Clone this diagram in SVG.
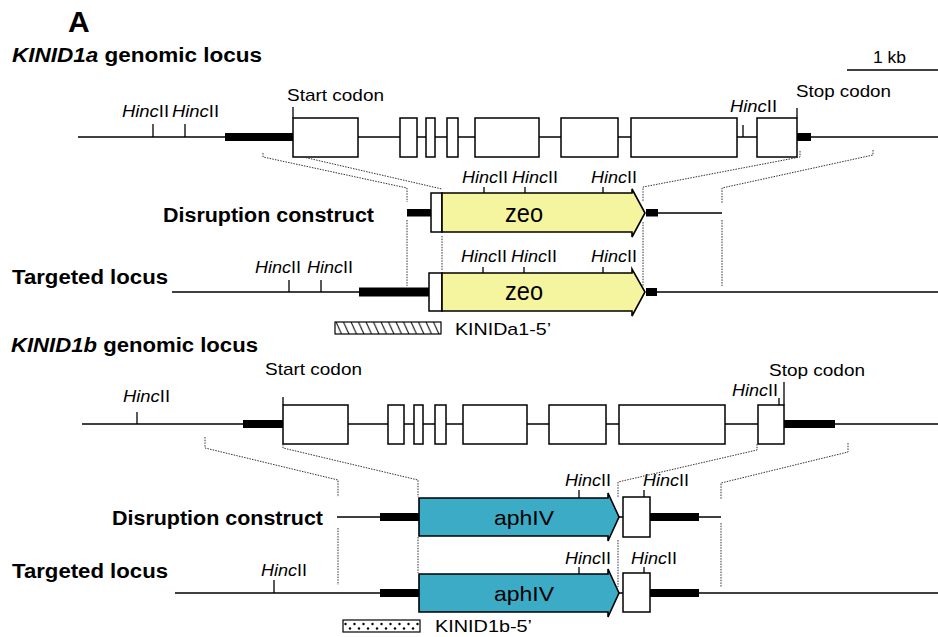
<svg xmlns="http://www.w3.org/2000/svg" width="938" height="637" viewBox="0 0 938 637">
<style>
text{font-family:"Liberation Sans",Arial,sans-serif;fill:#000}
.t{font-size:20px;font-weight:bold}
.h{font-size:16px}
.i{font-style:italic}
.s{font-size:17px}
.ln{stroke:#000;stroke-width:1.5;fill:none}
.tk{stroke:#000;stroke-width:1.3;fill:none}
.bar{fill:#000}
.ex{fill:#fff;stroke:#000;stroke-width:1.5}
.dt{stroke:#333;stroke-width:1;stroke-dasharray:1.5 1.2;fill:none}
.zeo{fill:#f5f59f;stroke:#000;stroke-width:1.6}
.aph{fill:#3cabc6;stroke:#000;stroke-width:1.6}
</style>
<defs>
<pattern id="hatch" patternUnits="userSpaceOnUse" x="335" y="322" width="7.5" height="12"><path d="M1,0 L6.5,12" stroke="#000" stroke-width="1"/></pattern>
<pattern id="dots" patternUnits="userSpaceOnUse" x="343" y="620" width="9" height="12"><circle cx="2.5" cy="4" r="1.2" fill="#000"/><circle cx="7" cy="8.5" r="1.2" fill="#000"/></pattern>
</defs>
<rect width="938" height="637" fill="#fff"/>

<text x="68" y="32" style="font-size:30px;font-weight:bold">A</text>

<g id="scale">
<text x="873" y="63" textLength="33" lengthAdjust="spacingAndGlyphs" style="font-size:16px">1 kb</text>
<line class="ln" x1="847" y1="70" x2="938" y2="70"/>
</g>

<!-- KINID1a genomic -->
<g id="kinid1a-genomic">
<text class="t" x="12" y="62" textLength="250" lengthAdjust="spacingAndGlyphs" style="font-size:19.5px"><tspan class="i">KINID1a</tspan> genomic locus</text>
<line class="ln" x1="78" y1="137" x2="938" y2="137"/>
<rect class="bar" x="225" y="133" width="68" height="8"/>
<rect class="bar" x="797" y="133" width="14" height="8"/>
<rect class="ex" x="293" y="118" width="65" height="39"/>
<rect class="ex" x="400" y="118" width="17" height="39"/>
<rect class="ex" x="426" y="118" width="9" height="39"/>
<rect class="ex" x="447" y="118" width="11" height="39"/>
<rect class="ex" x="475" y="118" width="64" height="39"/>
<rect class="ex" x="561" y="118" width="57" height="39"/>
<rect class="ex" x="631" y="118" width="106" height="39"/>
<rect class="ex" x="757" y="118" width="40" height="39"/>
<line class="tk" x1="293" y1="107" x2="293" y2="118"/>
<line class="tk" x1="797" y1="108" x2="797" y2="118"/>
<line class="tk" x1="153" y1="124" x2="153" y2="137"/>
<line class="tk" x1="185" y1="124" x2="185" y2="137"/>
<line class="tk" x1="743" y1="125" x2="743" y2="137"/>
<text class="s" x="287" y="101" textLength="97" lengthAdjust="spacingAndGlyphs">Start codon</text>
<text class="s" x="796" y="97" textLength="95" lengthAdjust="spacingAndGlyphs">Stop codon</text>
<text class="h" x="122" y="117" textLength="47" lengthAdjust="spacingAndGlyphs"><tspan class="i">Hinc</tspan>II</text>
<text class="h" x="172" y="117" textLength="47" lengthAdjust="spacingAndGlyphs"><tspan class="i">Hinc</tspan>II</text>
<text class="h" x="730" y="112" textLength="47" lengthAdjust="spacingAndGlyphs"><tspan class="i">Hinc</tspan>II</text>
</g>

<!-- KINID1a disruption construct -->
<g id="kinid1a-construct">
<text class="t" x="163" y="222" textLength="211" lengthAdjust="spacingAndGlyphs">Disruption construct</text>
<rect class="bar" x="407" y="209" width="24" height="7.5"/>
<rect class="ex" x="431" y="193" width="11" height="39"/>
<polygon class="zeo" points="442,193 632,193 632,189 645,213 632,237 632,232 442,232"/>
<text x="524" y="222" text-anchor="middle" textLength="38" lengthAdjust="spacingAndGlyphs" style="font-size:25px">zeo</text>
<rect class="bar" x="646" y="209" width="12" height="7.5"/>
<line class="ln" x1="658" y1="213" x2="722" y2="213"/>
<line class="tk" x1="484" y1="187" x2="484" y2="193"/>
<line class="tk" x1="525" y1="187" x2="525" y2="193"/>
<line class="tk" x1="603" y1="187" x2="603" y2="193"/>
<text class="h" x="462" y="183" textLength="46" lengthAdjust="spacingAndGlyphs"><tspan class="i">Hinc</tspan>II</text>
<text class="h" x="512" y="183" textLength="46" lengthAdjust="spacingAndGlyphs"><tspan class="i">Hinc</tspan>II</text>
<text class="h" x="591" y="183" textLength="46" lengthAdjust="spacingAndGlyphs"><tspan class="i">Hinc</tspan>II</text>
</g>

<!-- KINID1a targeted locus -->
<g id="kinid1a-targeted">
<text class="t" x="12" y="284" textLength="156" lengthAdjust="spacingAndGlyphs">Targeted locus</text>
<line class="ln" x1="172" y1="292" x2="359" y2="292"/>
<line class="ln" x1="657" y1="292" x2="938" y2="292"/>
<rect class="bar" x="359" y="287.5" width="71" height="9"/>
<rect class="ex" x="429" y="273" width="13" height="38"/>
<polygon class="zeo" points="442,273 632,273 632,269 645,292 632,316 632,311 442,311"/>
<text x="524" y="300" text-anchor="middle" textLength="38" lengthAdjust="spacingAndGlyphs" style="font-size:25px">zeo</text>
<rect class="bar" x="646" y="288" width="11" height="8"/>
<line class="tk" x1="289" y1="280" x2="289" y2="292"/>
<line class="tk" x1="321" y1="280" x2="321" y2="292"/>
<line class="tk" x1="483" y1="267" x2="483" y2="273"/>
<line class="tk" x1="524" y1="267" x2="524" y2="273"/>
<line class="tk" x1="603" y1="267" x2="603" y2="273"/>
<text class="h" x="255" y="273" textLength="46" lengthAdjust="spacingAndGlyphs"><tspan class="i">Hinc</tspan>II</text>
<text class="h" x="307" y="273" textLength="46" lengthAdjust="spacingAndGlyphs"><tspan class="i">Hinc</tspan>II</text>
<text class="h" x="461" y="262" textLength="46" lengthAdjust="spacingAndGlyphs"><tspan class="i">Hinc</tspan>II</text>
<text class="h" x="511" y="262" textLength="46" lengthAdjust="spacingAndGlyphs"><tspan class="i">Hinc</tspan>II</text>
<text class="h" x="591" y="262" textLength="46" lengthAdjust="spacingAndGlyphs"><tspan class="i">Hinc</tspan>II</text>
</g>

<g id="probe-a">
<rect x="335" y="322" width="106" height="12" fill="url(#hatch)" stroke="#000" stroke-width="1.2"/>
<text class="s" x="455" y="335" textLength="96" lengthAdjust="spacingAndGlyphs">KINIDa1-5’</text>
</g>

<!-- KINID1b genomic -->
<g id="kinid1b-genomic">
<text class="t" x="11" y="352" textLength="247" lengthAdjust="spacingAndGlyphs" style="font-size:19.5px"><tspan class="i">KINID1b</tspan> genomic locus</text>
<line class="ln" x1="82" y1="424" x2="938" y2="424"/>
<rect class="bar" x="243" y="420" width="40" height="8"/>
<rect class="bar" x="784" y="420" width="51" height="8"/>
<rect class="ex" x="283" y="405" width="65" height="39"/>
<rect class="ex" x="388" y="405" width="16" height="39"/>
<rect class="ex" x="414" y="405" width="9" height="39"/>
<rect class="ex" x="435" y="405" width="11" height="39"/>
<rect class="ex" x="463" y="405" width="64" height="39"/>
<rect class="ex" x="549" y="405" width="57" height="39"/>
<rect class="ex" x="619" y="405" width="106" height="39"/>
<rect class="ex" x="758" y="405" width="26" height="39"/>
<line class="tk" x1="283" y1="397" x2="283" y2="405"/>
<line class="tk" x1="784" y1="382" x2="784" y2="405"/>
<line class="tk" x1="779" y1="398" x2="779" y2="405"/>
<line class="tk" x1="137" y1="412" x2="137" y2="424"/>
<text class="s" x="265" y="375" textLength="97" lengthAdjust="spacingAndGlyphs">Start codon</text>
<text class="s" x="769" y="376" textLength="96" lengthAdjust="spacingAndGlyphs">Stop codon</text>
<text class="h" x="123" y="402" textLength="47" lengthAdjust="spacingAndGlyphs"><tspan class="i">Hinc</tspan>II</text>
<text class="h" x="732" y="396" textLength="46" lengthAdjust="spacingAndGlyphs"><tspan class="i">Hinc</tspan>II</text>
</g>

<!-- KINID1b disruption construct -->
<g id="kinid1b-construct">
<text class="t" x="112" y="525" textLength="211" lengthAdjust="spacingAndGlyphs">Disruption construct</text>
<line class="ln" x1="337" y1="517" x2="380" y2="517"/>
<rect class="bar" x="380" y="513" width="39" height="8"/>
<polygon class="aph" points="419,498 608,498 608,493 619,517 608,541 608,536 419,536"/>
<text x="524" y="525" text-anchor="middle" textLength="60" lengthAdjust="spacingAndGlyphs" style="font-size:21px">aphIV</text>
<line class="ln" x1="619" y1="517" x2="623" y2="517"/>
<rect class="ex" x="623" y="497" width="27" height="40"/>
<rect class="bar" x="650" y="513" width="49" height="8"/>
<line class="ln" x1="699" y1="517" x2="721" y2="517"/>
<line class="tk" x1="579" y1="490" x2="579" y2="498"/>
<line class="tk" x1="644" y1="490" x2="644" y2="497"/>
<text class="h" x="565" y="486" textLength="46" lengthAdjust="spacingAndGlyphs"><tspan class="i">Hinc</tspan>II</text>
<text class="h" x="643" y="486" textLength="46" lengthAdjust="spacingAndGlyphs"><tspan class="i">Hinc</tspan>II</text>
</g>

<!-- KINID1b targeted locus -->
<g id="kinid1b-targeted">
<text class="t" x="12" y="578" textLength="156" lengthAdjust="spacingAndGlyphs">Targeted locus</text>
<line class="ln" x1="175" y1="593" x2="380" y2="593"/>
<line class="ln" x1="699" y1="593" x2="938" y2="593"/>
<line class="ln" x1="619" y1="593" x2="623" y2="593"/>
<rect class="bar" x="380" y="589" width="39" height="8"/>
<polygon class="aph" points="419,574 608,574 608,569 619,593 608,617 608,612 419,612"/>
<text x="524" y="601" text-anchor="middle" textLength="60" lengthAdjust="spacingAndGlyphs" style="font-size:21px">aphIV</text>
<rect class="ex" x="623" y="573" width="27" height="39"/>
<rect class="bar" x="650" y="589" width="49" height="8"/>
<line class="tk" x1="274" y1="580" x2="274" y2="593"/>
<line class="tk" x1="579" y1="567" x2="579" y2="574"/>
<line class="tk" x1="644" y1="567" x2="644" y2="573"/>
<text class="h" x="261" y="576" textLength="46" lengthAdjust="spacingAndGlyphs"><tspan class="i">Hinc</tspan>II</text>
<text class="h" x="565" y="564" textLength="46" lengthAdjust="spacingAndGlyphs"><tspan class="i">Hinc</tspan>II</text>
<text class="h" x="631" y="564" textLength="46" lengthAdjust="spacingAndGlyphs"><tspan class="i">Hinc</tspan>II</text>
</g>

<g id="probe-b">
<rect x="343" y="620" width="77" height="12" fill="url(#dots)" stroke="#000" stroke-width="1.2"/>
<text class="s" x="435" y="632" textLength="97" lengthAdjust="spacingAndGlyphs">KINID1b-5’</text>
</g>

<g id="connectors">
<path class="dt" d="M263,153 V157 L407,188 V202 M407,220 V286"/>
<path class="dt" d="M303,157 L442,189 M442,236 V270"/>
<path class="dt" d="M800,151 V157 L643,187 V201 M643,222 V287"/>
<path class="dt" d="M873,150 V155 L722,188 V203 M722,220 V286"/>
<path class="dt" d="M205,437 V448 L338,480 V497 M338,528 V585"/>
<path class="dt" d="M283,444 V448 L418,480 V497 M418,537 V573"/>
<path class="dt" d="M757,444 V450 L618,482 V497 M618,540 V587"/>
<path class="dt" d="M848,443 V452 L721,483 V499 M721,523 V587"/>
</g>
</svg>
